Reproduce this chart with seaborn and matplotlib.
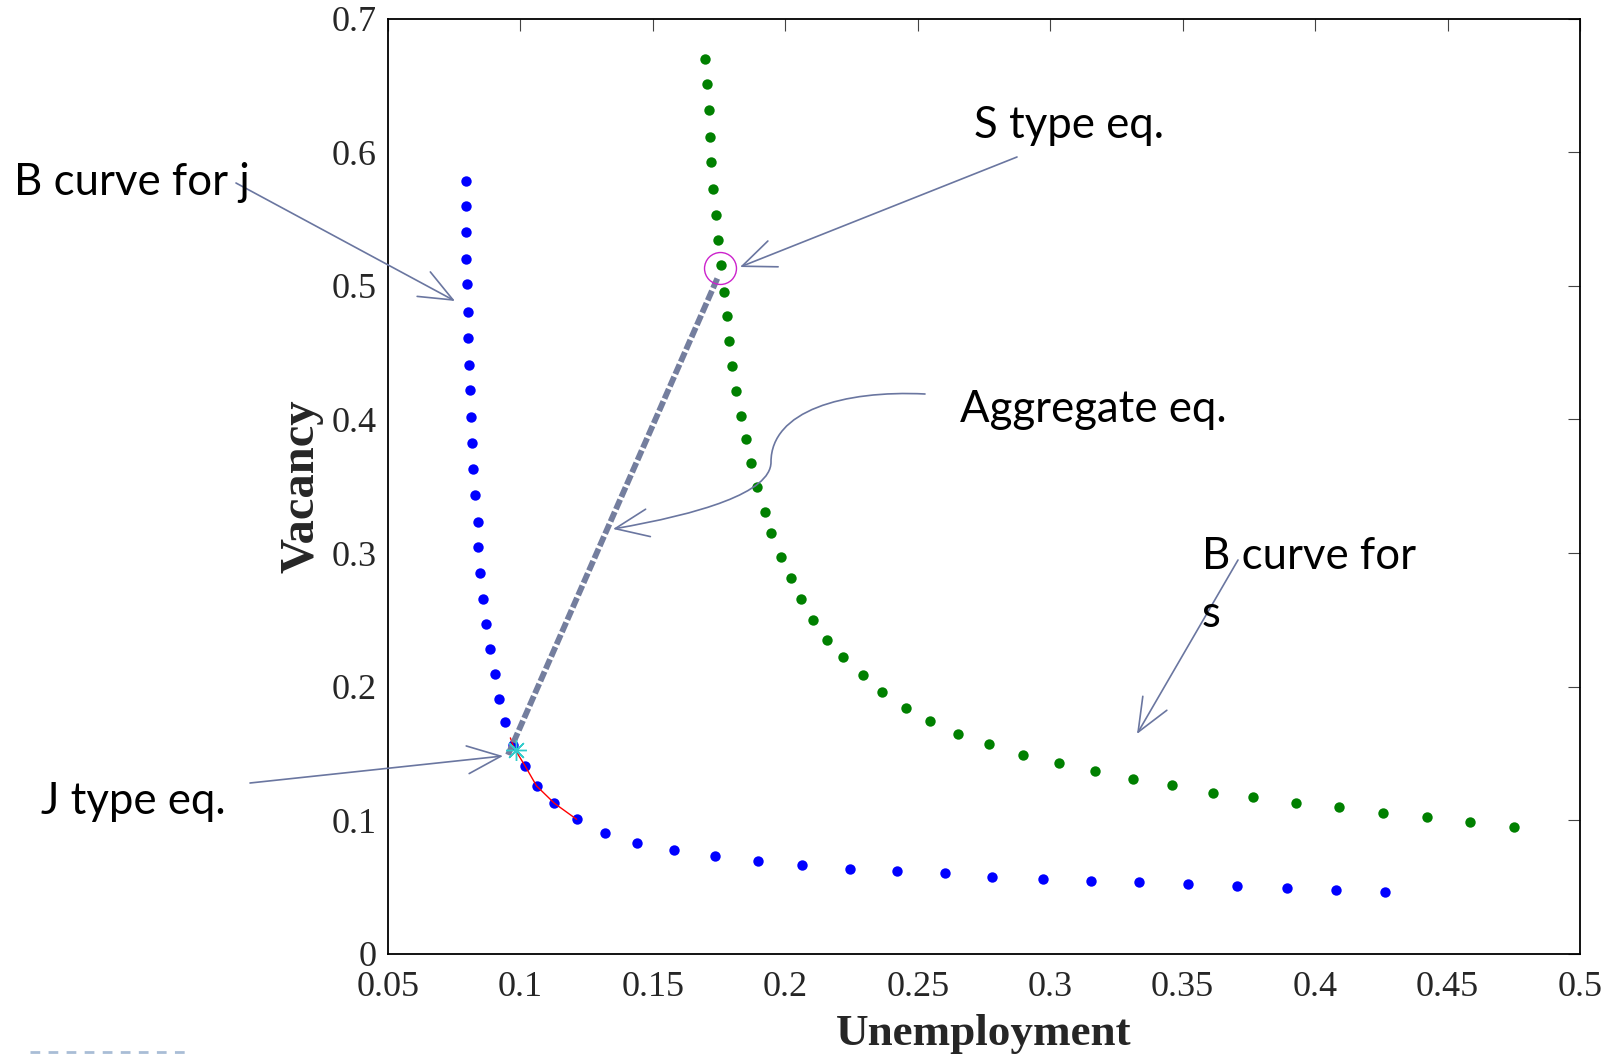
import matplotlib
matplotlib.use("Agg")
import matplotlib.pyplot as plt
import seaborn as sns
import numpy as np
import pandas as pd
from matplotlib.patches import FancyArrowPatch
from matplotlib.path import Path
from matplotlib.lines import Line2D

# ---------------- data ----------------
j_u = [0.0795, 0.0795, 0.0795, 0.0795, 0.0799, 0.0803, 0.0803, 0.0806, 0.0810, 0.0814,
       0.0818, 0.0822, 0.0830, 0.0838, 0.0841, 0.0849, 0.0857, 0.0869, 0.0884, 0.0903,
       0.0918, 0.0942, 0.0971, 0.1017, 0.1061, 0.1128, 0.1212, 0.1319, 0.1439, 0.1578,
       0.1734, 0.1897, 0.2063, 0.2246, 0.2420, 0.2603, 0.2781, 0.2971, 0.3153, 0.3336,
       0.3522, 0.3704, 0.3894, 0.4077, 0.4263]
j_v = [0.5786, 0.5594, 0.5402, 0.5202, 0.5010, 0.4802, 0.4610, 0.4411, 0.4219, 0.4019,
       0.3827, 0.3627, 0.3435, 0.3235, 0.3043, 0.2851, 0.2659, 0.2467, 0.2282, 0.2098,
       0.1906, 0.1739, 0.1564, 0.1409, 0.1257, 0.1128, 0.1008, 0.0903, 0.0830, 0.0776,
       0.0730, 0.0699, 0.0669, 0.0638, 0.0622, 0.0607, 0.0576, 0.0561, 0.0546, 0.0538,
       0.0523, 0.0507, 0.0492, 0.0476, 0.0461]

s_u = [0.1695, 0.1703, 0.1710, 0.1714, 0.1718, 0.1726, 0.1737, 0.1745, 0.1757, 0.1768,
       0.1780, 0.1788, 0.1800, 0.1815, 0.1831, 0.1850, 0.1869, 0.1893, 0.1923, 0.1946,
       0.1984, 0.2021, 0.2059, 0.2104, 0.2157, 0.2218, 0.2293, 0.2366, 0.2455, 0.2548,
       0.2653, 0.2769, 0.2897, 0.3033, 0.3169, 0.3312, 0.3460, 0.3615, 0.3766, 0.3929,
       0.4092, 0.4255, 0.4422, 0.4585, 0.4752]
s_v = [0.6700, 0.6508, 0.6316, 0.6116, 0.5924, 0.5725, 0.5533, 0.5340, 0.5156, 0.4956,
       0.4772, 0.4587, 0.4403, 0.4211, 0.4026, 0.3850, 0.3673, 0.3496, 0.3308, 0.3151,
       0.2972, 0.2814, 0.2657, 0.2500, 0.2350, 0.2223, 0.2088, 0.1959, 0.1844, 0.1744,
       0.1644, 0.1568, 0.1491, 0.1429, 0.1368, 0.1306, 0.1268, 0.1206, 0.1176, 0.1130,
       0.1099, 0.1053, 0.1022, 0.0984, 0.0953]

agg_u = [0.0953, 0.1746]
agg_v = [0.1490, 0.5067]

red_u = [0.0962, 0.0975, 0.1017, 0.1061, 0.1128, 0.1212]
red_v = [0.1617, 0.1545, 0.1409, 0.1257, 0.1128, 0.1008]

j_eq_u, j_eq_v = [0.0983], [0.1527]
s_eq_u, s_eq_v = [0.1753], [0.5135]

xticks = [0.05, 0.1, 0.15, 0.2, 0.25, 0.3, 0.35, 0.4, 0.45, 0.5]
xtick_labels = ["0.05", "0.1", "0.15", "0.2", "0.25", "0.3", "0.35", "0.4", "0.45", "0.5"]
yticks = [0, 0.1, 0.2, 0.3, 0.4, 0.5, 0.6, 0.7]
ytick_labels = ["0", "0.1", "0.2", "0.3", "0.4", "0.5", "0.6", "0.7"]

x_label = "Unemployment"
y_label = "Vacancy"

# ---------------- style ----------------
sns.set_style("white")
plt.rcParams["font.family"] = ["Liberation Serif", "DejaVu Serif"]

W, H = 1611, 1058
fig = plt.figure(figsize=(W / 100, H / 100), dpi=100)
fig.patch.set_facecolor("white")
ax = fig.add_axes([388 / W, 1 - 954 / H, (1580 - 388) / W, (954 - 18.5) / H])

blue_df = pd.DataFrame({"u": j_u, "v": j_v})
green_df = pd.DataFrame({"u": s_u, "v": s_v})

sns.scatterplot(data=blue_df, x="u", y="v", color="#0000ff", s=56, linewidth=0, ax=ax, zorder=3)
sns.scatterplot(data=green_df, x="u", y="v", color="#008000", s=56, linewidth=0, ax=ax, zorder=3)
sns.lineplot(x=red_u, y=red_v, color="#ff0000", lw=1.0, sort=False, ax=ax, zorder=4)
sns.lineplot(x=agg_u, y=agg_v, color="#747e9e", lw=4.2, sort=False, ax=ax, zorder=5,
             linestyle=(0, (1.8, 0.5)))
ax.plot(j_eq_u, j_eq_v, linestyle="none", marker=(8, 2, 0), markersize=15,
        markeredgecolor="#33cccc", markeredgewidth=1.0, zorder=6)
ax.plot(s_eq_u, s_eq_v, linestyle="none", marker="o", markersize=23,
        markerfacecolor="none", markeredgecolor="#cc22cc", markeredgewidth=1.0, zorder=6)

ax.set_xlim(0.05, 0.5)
ax.set_ylim(0, 0.7)
ax.set_xticks(xticks)
ax.set_xticklabels(xtick_labels)
ax.set_yticks(yticks)
ax.set_yticklabels(ytick_labels)
ax.tick_params(direction="in", length=8.5, width=0.8, color="#444444",
               top=True, right=True, labelsize=26)
ax.tick_params(axis="x", pad=12.5)
ax.tick_params(axis="y", pad=8)
for sp in ax.spines.values():
    sp.set_visible(True)
    sp.set_color("black")
    sp.set_linewidth(1.3)

ax.set_xlabel(x_label, fontsize=32.5, fontweight="bold")
ax.set_ylabel(y_label, fontsize=35, fontweight="bold")
ax.xaxis.set_label_coords(0.5, -0.064)
ax.yaxis.set_label_coords((323 - 388) / (1580 - 388), 0.5)


# ---------------- annotations ----------------
def P(x, y):
    return (x / W, 1 - y / H)


ann_font = ["Lato", "DejaVu Sans"]
ann_size = 31.5
arrow_col = "#6a76a0"


def label(x, y, s):
    fig.text(*P(x, y), s, fontsize=ann_size, family=ann_font, ha="left",
             va="baseline", color="black", zorder=10)


def arrow(x0, y0, x1, y1):
    a = FancyArrowPatch(P(x0, y0), P(x1, y1), transform=fig.transFigure,
                        arrowstyle="->,head_length=1.2,head_width=0.5",
                        mutation_scale=20, color=arrow_col, lw=1.2,
                        shrinkA=0, shrinkB=0, zorder=9)
    fig.add_artist(a)


label(14, 195, "B curve for j")
arrow(236, 183, 455, 301)

label(974, 138, "S type eq.")
arrow(1017, 157, 740, 267)

label(960, 422, "Aggregate eq.")
verts = [P(925, 394), P(843, 390), P(771, 411), P(771, 462),
         P(771, 493), P(699, 514), P(613, 529)]
codes = [Path.MOVETO, Path.CURVE4, Path.CURVE4, Path.CURVE4,
         Path.CURVE4, Path.CURVE4, Path.CURVE4]
curve = FancyArrowPatch(path=Path(verts, codes), transform=fig.transFigure,
                        arrowstyle="->,head_length=1.2,head_width=0.5",
                        mutation_scale=20, color=arrow_col, lw=1.2, zorder=9)
fig.add_artist(curve)

label(1202, 569, "B curve for")
label(1202, 627, "s")
arrow(1238, 560, 1137, 734)

label(41, 814, "J type eq.")
arrow(250, 783, 503, 756)

# slide artifact: dashed rule bottom left
fig.add_artist(Line2D([30 / W, 190 / W], [1 - 1052 / H, 1 - 1052 / H],
                      transform=fig.transFigure, color="#a9bdd6", lw=2.0,
                      linestyle=(0, (3.5, 3.0))))

fig.savefig("out.png", dpi=100, facecolor="white")
